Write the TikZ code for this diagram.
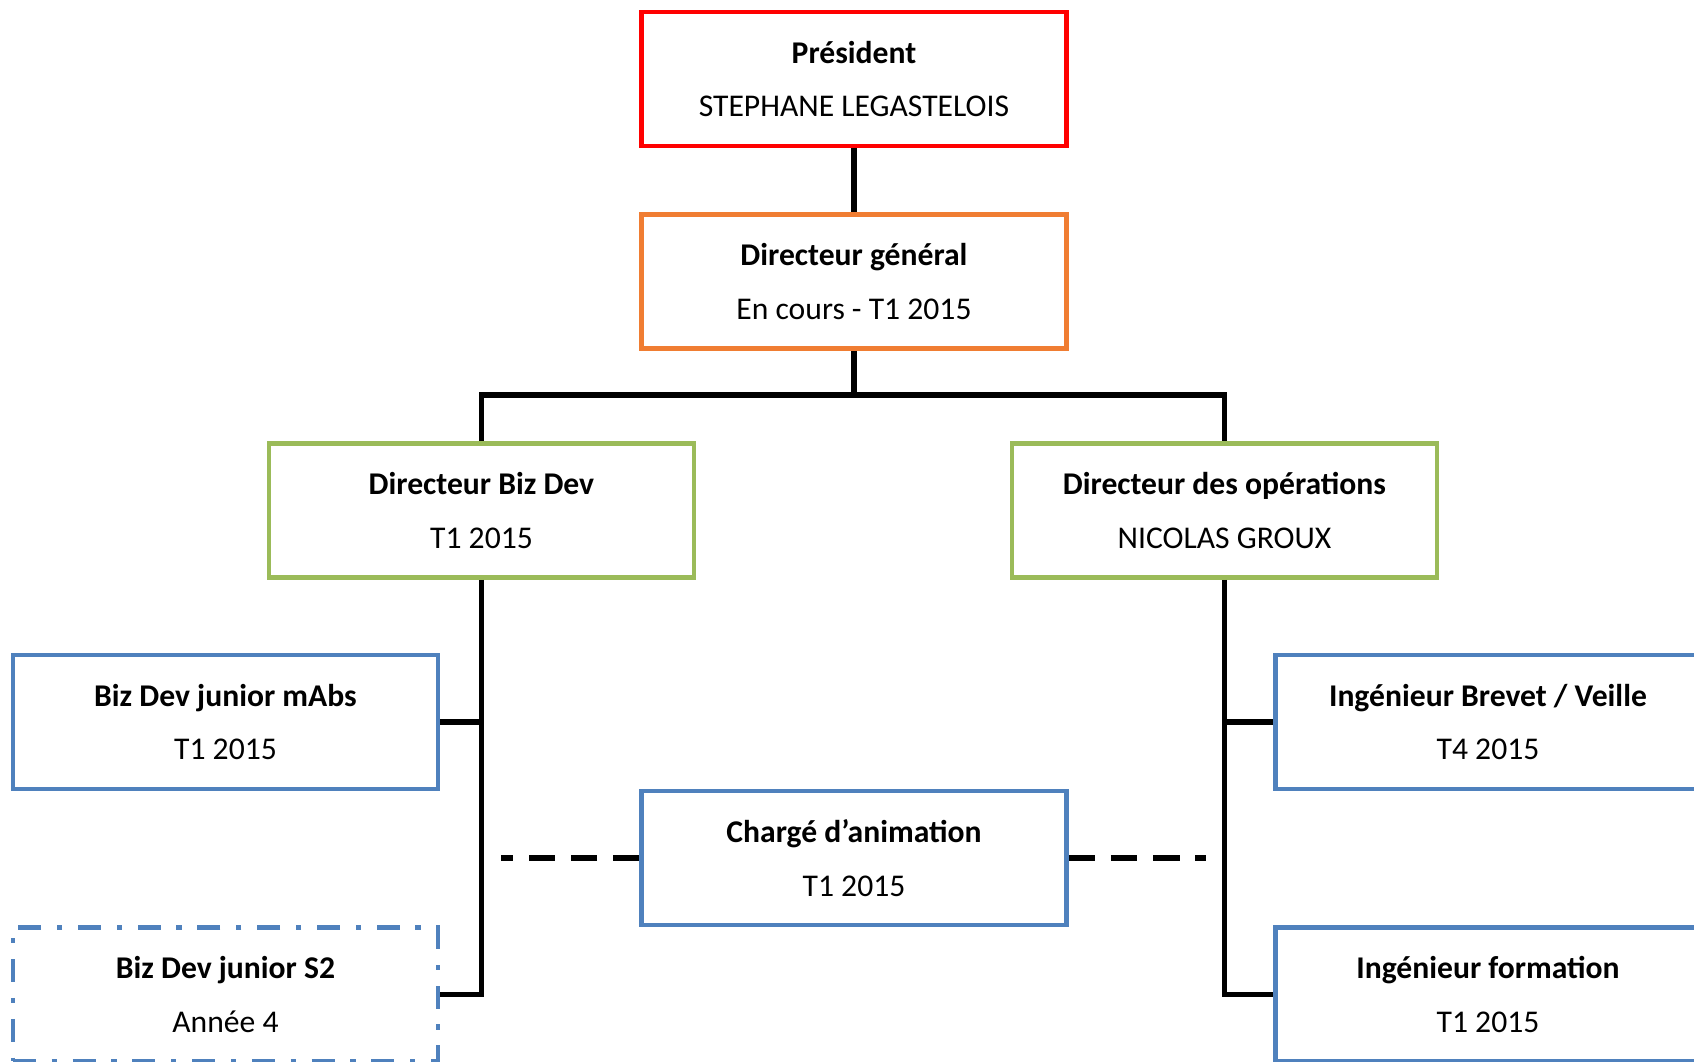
\documentclass[tikz,border=0pt]{standalone}
\usepackage{fontspec}
\setmainfont{Carlito}
\definecolor{presred}{HTML}{FF0000}
\definecolor{dgorange}{HTML}{F07D32}
\definecolor{dirgreen}{HTML}{9BBB59}
\definecolor{staffblue}{HTML}{4F81BD}
\tikzset{
  post/.style={draw=#1, rectangle, line width=2.6pt, minimum width=8.5cm,
    minimum height=2.68cm, inner sep=0pt, align=center, text=black,
    font=\fontsize{18}{30.7}\selectfont},
  link/.style={line width=3.2pt, black},
  linkdash/.style={link, dash pattern=on 15pt off 9pt},
}
\begin{document}
\begin{tikzpicture}
      \useasboundingbox (0,0) rectangle (33.88,21.24);
      \node[post=presred] (pres) at (17.08,19.66)
        {\textbf{Président}\\STEPHANE LEGASTELOIS};
      \node[post=dgorange] (dg) at (17.08,15.61)
        {\textbf{Directeur général}\\En cours - T1 2015};
      \node[post=dirgreen] (bizdev) at (9.63,11.03)
        {\textbf{Directeur Biz Dev}\\T1 2015};
      \node[post=dirgreen] (ops) at (24.49,11.03)
        {\textbf{Directeur des opérations}\\NICOLAS GROUX};
      \node[post=staffblue] (mabs) at (4.51,6.80)
        {\textbf{Biz Dev junior mAbs}\\T1 2015};
      \node[post=staffblue, line width=2.4pt,
        dash pattern=on 13pt off 9pt on 3pt off 9pt] (s2) at (4.51,1.35)
        {\textbf{Biz Dev junior S2}\\Année 4};
      \node[post=staffblue] (charge) at (17.08,4.08)
        {\textbf{Chargé d’animation}\\T1 2015};
      \node[post=staffblue] (brevet) at (29.76,6.80)
        {\textbf{Ingénieur Brevet / Veille}\\T4 2015};
      \node[post=staffblue] (formation) at (29.76,1.35)
        {\textbf{Ingénieur formation}\\T1 2015};
      \coordinate (split) at (17.08,13.34);
      \begin{scope}[link]
        \draw (pres) to (dg);
        \draw (dg) to (split);
        \draw (split) -| (bizdev.north);
        \draw (split) -| (ops.north);
        \draw (bizdev.south) |- (s2.east);
        \draw (mabs.east) to (mabs.east -| bizdev.south);
        \draw (ops.south) |- (formation.west);
        \draw (brevet.west) to (brevet.west -| ops.south);
      \end{scope}
      \begin{scope}[linkdash, shorten >=0.38cm]
        \draw (charge.west) to (charge.west -| bizdev.south);
        \draw (charge.east) to (charge.east -| ops.south);
      \end{scope}
    \end{tikzpicture}
\end{document}
